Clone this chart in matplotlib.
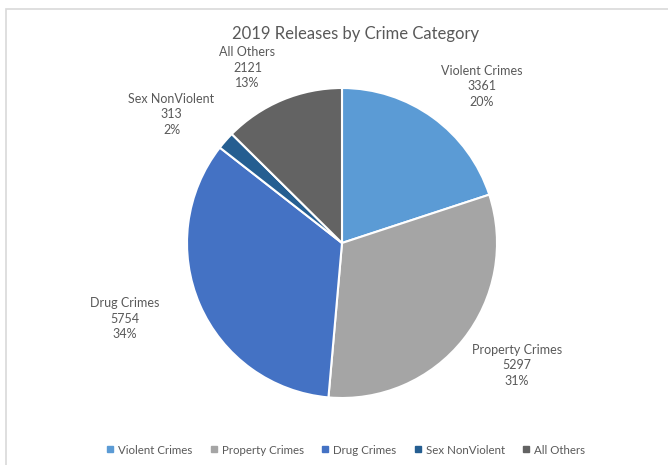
import matplotlib
matplotlib.use("Agg")
import matplotlib.pyplot as plt
from matplotlib.lines import Line2D
from matplotlib.patches import Rectangle

# Release counts by crime category, 2019
categories = ["Violent Crimes", "Property Crimes", "Drug Crimes", "Sex NonViolent", "All Others"]
releases = [3361, 5297, 5754, 313, 2121]
colors = ["#5B9BD5", "#A5A5A5", "#4472C4", "#255E91", "#636363"]
title = "2019 Releases by Crime Category"

# label centres, in units of the pie radius from the pie centre
label_offsets = [(0.90, 1.01), (1.13, -0.79), (-1.40, -0.49), (-1.10, 0.83), (-0.61, 1.13)]

plt.rcParams["font.family"] = ["Lato", "DejaVu Sans"]
text_color = "#595959"

W, H = 668, 465
fig = plt.figure(figsize=(W / 100, H / 100), dpi=100)
ax = fig.add_axes([0, 0, 1, 1])
ax.set_xlim(0, W)
ax.set_ylim(0, H)
ax.set_aspect("equal")
ax.axis("off")

# chart frame
ax.add_patch(Rectangle((6, -10), W + 20, H - 9 + 10, fill=False,
                       edgecolor="#D9D9D9", linewidth=1.2))

cx, cy, R = 342, H - 243, 155
ax.pie(releases, colors=colors, startangle=90, counterclock=False,
       center=(cx, cy), radius=R,
       wedgeprops=dict(edgecolor="white", linewidth=1.5))
ax.set_xlim(0, W)
ax.set_ylim(0, H)

total = sum(releases)
for name, val, (ox, oy) in zip(categories, releases, label_offsets):
    pct = round(100 * val / total)
    ax.text(cx + ox * R, cy + oy * R, f"{name}\n{val}\n{pct}%",
            ha="center", va="center", fontsize=9, color=text_color,
            linespacing=1.35)

ax.text(356, H - 34, title, ha="center", va="center",
        fontsize=12, color=text_color)

handles = [Line2D([], [], marker="s", linestyle="none", markersize=4.5,
                  markerfacecolor=c, markeredgecolor=c) for c in colors]
fig.legend(handles, categories, loc="center", bbox_to_anchor=(0.518, 1 - 450 / H),
           ncol=5, frameon=False, fontsize=8.3, handlelength=0.6,
           handletextpad=0.4, columnspacing=1.55, labelcolor=text_color)

fig.savefig("out.png", dpi=100, facecolor="white")
